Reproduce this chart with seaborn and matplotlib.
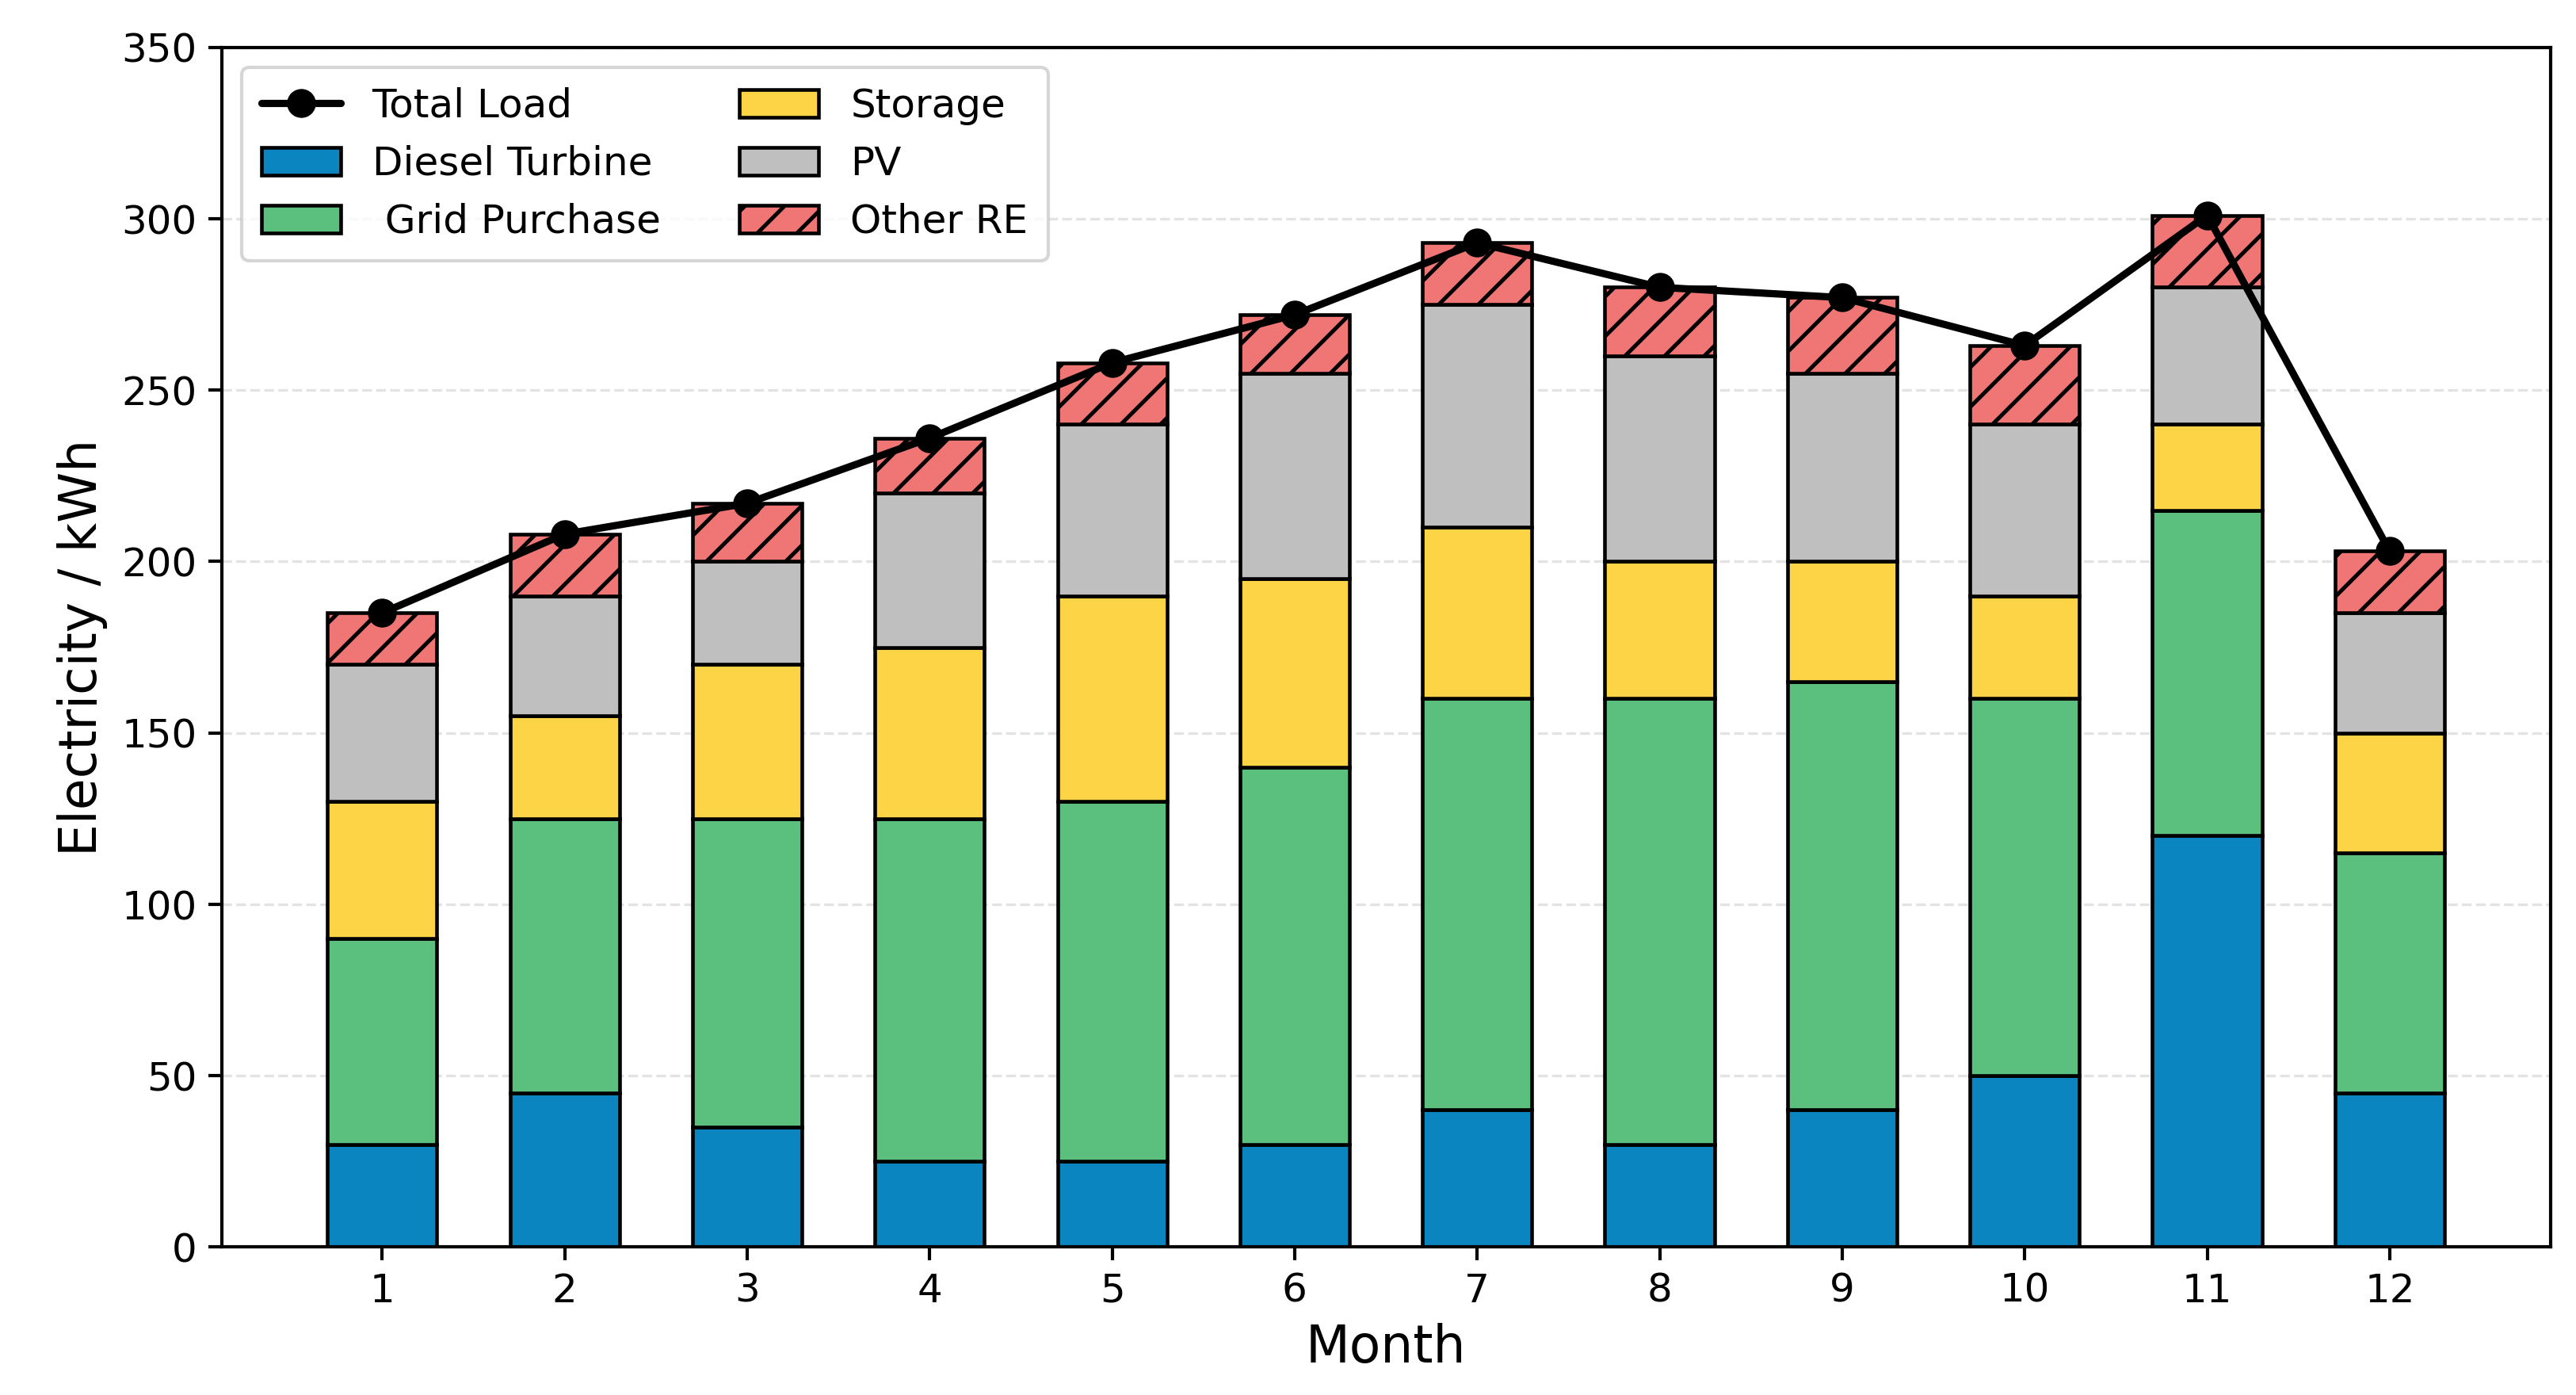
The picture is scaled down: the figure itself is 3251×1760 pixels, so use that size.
import pandas as pd
import seaborn as sns
import matplotlib.pyplot as plt

months = [1, 2, 3, 4, 5, 6, 7, 8, 9, 10, 11, 12]
diesel = [30, 45, 35, 25, 25, 30, 40, 30, 40, 50, 120, 45]
grid = [60, 80, 90, 100, 105, 110, 120, 130, 125, 110, 95, 70]
storage = [40, 30, 45, 50, 60, 55, 50, 40, 35, 30, 25, 35]
pv = [40, 35, 30, 45, 50, 60, 65, 60, 55, 50, 40, 35]
other_re = [15, 18, 17, 16, 18, 17, 18, 20, 22, 23, 21, 18]
total_load = [185, 208, 217, 236, 258, 272, 293, 280, 277, 263, 301, 203]

data = pd.DataFrame({"Month": months, "Diesel": diesel, "Grid": grid,
                     "Storage": storage, "PV": pv, "Other": other_re,
                     "Load": total_load})

sns.set_style("ticks")
plt.rcParams['font.family'] = ['DejaVu Sans']
plt.rcParams['hatch.linewidth'] = 1.2
plt.rcParams['text.color'] = 'black'
plt.rcParams['axes.labelcolor'] = 'black'
plt.rcParams['xtick.color'] = 'black'
plt.rcParams['ytick.color'] = 'black'

fig, ax = plt.subplots(figsize=(10.837, 5.867), dpi=300)
fig.subplots_adjust(left=0.086, right=0.990, top=0.966, bottom=0.106)

layers = [("Diesel", "Diesel Turbine", "#0b85bf", None),
          ("Grid", " Grid Purchase", "#5bbf7e", None),
          ("Storage", "Storage", "#fed447", None),
          ("PV", "PV", "#bfbfbf", None),
          ("Other", "Other RE", "#f07575", "//")]

bottom = pd.Series([0] * len(months))
for col, label, color, hatch in layers:
    sns.barplot(data=data, x="Month", y=col, bottom=bottom, native_scale=True,
                width=0.6, color=color, edgecolor="black", linewidth=1.1,
                hatch=hatch, errorbar=None, saturation=1, label=label, ax=ax)
    bottom = bottom + data[col]

sns.lineplot(data=data, x="Month", y="Load", color="black", linewidth=2.2,
             marker="o", markersize=8, markeredgecolor="black",
             label="Total Load", ax=ax, zorder=5)

ax.set_ylim(0, 350)
ax.set_yticks(range(0, 351, 50))
ax.set_xticks(months)
ax.set_xticklabels([str(m) for m in months])
ax.tick_params(labelsize=12, length=4, width=1, colors="black")
ax.set_xlabel("Month", fontsize=15.5)
ax.set_ylabel("Electricity / kWh", fontsize=15.5)
ax.yaxis.grid(True, linestyle="--", color="#dddddd", linewidth=0.8, alpha=0.8)
ax.set_axisbelow(True)
for s in ax.spines.values():
    s.set_visible(True)
    s.set_color("black")
    s.set_linewidth(1.0)

handles, labels = ax.get_legend_handles_labels()
order = ["Total Load", "Diesel Turbine", " Grid Purchase", "Storage", "PV", "Other RE"]
hmap = dict(zip(labels, handles))
ax.legend([hmap[k] for k in order], order, loc="upper left", ncol=2,
          fontsize=12, frameon=True, columnspacing=2.0, borderpad=0.5)

plt.savefig("out.png", dpi=300)
